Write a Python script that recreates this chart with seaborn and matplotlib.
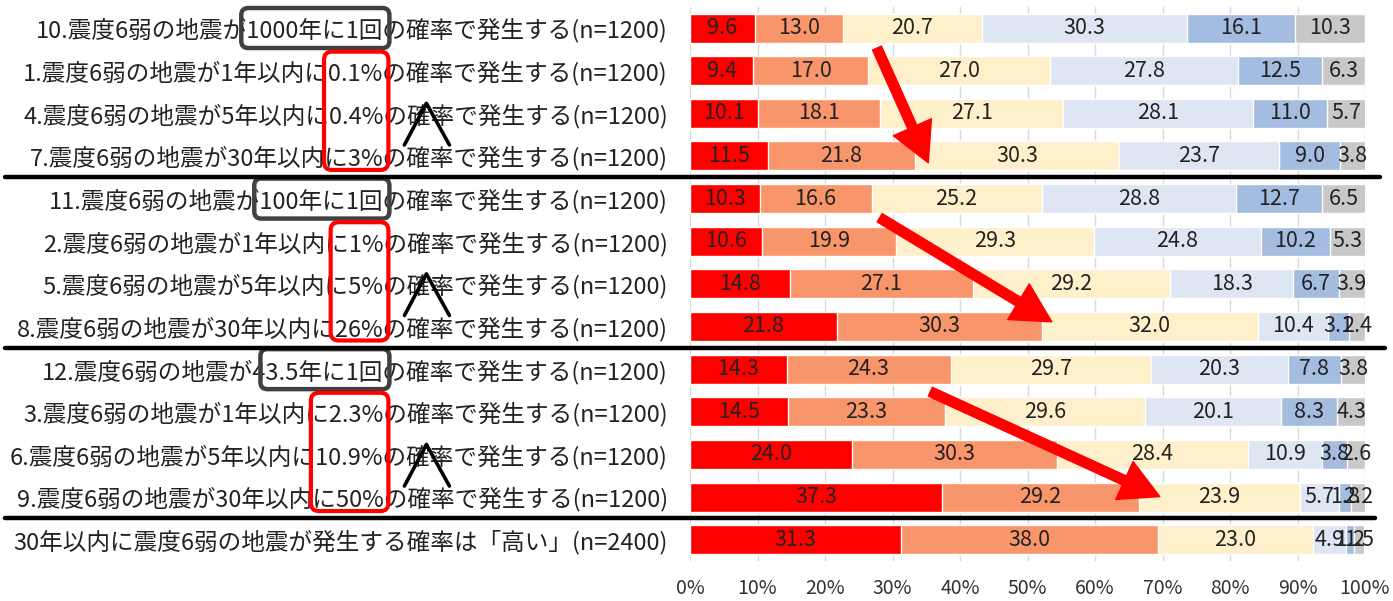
import matplotlib
matplotlib.use('Agg')
import matplotlib.pyplot as plt
import matplotlib.transforms as mtrans
from matplotlib.patches import FancyBboxPatch
from matplotlib.lines import Line2D
import numpy as np
import pandas as pd
import seaborn as sns

labels = [
    '10.震度6弱の地震が1000年に1回の確率で発生する(n=1200)',
    '1.震度6弱の地震が1年以内に0.1%の確率で発生する(n=1200)',
    '4.震度6弱の地震が5年以内に0.4%の確率で発生する(n=1200)',
    '7.震度6弱の地震が30年以内に3%の確率で発生する(n=1200)',
    '11.震度6弱の地震が100年に1回の確率で発生する(n=1200)',
    '2.震度6弱の地震が1年以内に1%の確率で発生する(n=1200)',
    '5.震度6弱の地震が5年以内に5%の確率で発生する(n=1200)',
    '8.震度6弱の地震が30年以内に26%の確率で発生する(n=1200)',
    '12.震度6弱の地震が43.5年に1回の確率で発生する(n=1200)',
    '3.震度6弱の地震が1年以内に2.3%の確率で発生する(n=1200)',
    '6.震度6弱の地震が5年以内に10.9%の確率で発生する(n=1200)',
    '9.震度6弱の地震が30年以内に50%の確率で発生する(n=1200)',
    '30年以内に震度6弱の地震が発生する確率は「高い」(n=2400)',
]
red = [9.6, 9.4, 10.1, 11.5, 10.3, 10.6, 14.8, 21.8, 14.3, 14.5, 24.0, 37.3, 31.3]
orange = [13.0, 17.0, 18.1, 21.8, 16.6, 19.9, 27.1, 30.3, 24.3, 23.3, 30.3, 29.2, 38.0]
yellow = [20.7, 27.0, 27.1, 30.3, 25.2, 29.3, 29.2, 32.0, 29.7, 29.6, 28.4, 23.9, 23.0]
lblue = [30.3, 27.8, 28.1, 23.7, 28.8, 24.8, 18.3, 10.4, 20.3, 20.1, 10.9, 5.7, 4.9]
mblue = [16.1, 12.5, 11.0, 9.0, 12.7, 10.2, 6.7, 3.1, 7.8, 8.3, 3.8, 1.8, 1.2]
grey = [10.3, 6.3, 5.7, 3.8, 6.5, 5.3, 3.9, 2.4, 3.8, 4.3, 2.6, 2.2, 1.5]
xticks = [0, 10, 20, 30, 40, 50, 60, 70, 80, 90, 100]

# boxed parts of the labels
dark_box = {0: '1000年に1回', 4: '100年に1回', 8: '3.5年に1回'}
red_box = [{1: '0.1%', 2: '0.4%', 3: '3%'},
           {5: '1%', 6: '5%', 7: '26%'},
           {9: '2.3%', 10: '10.9%', 11: '50%'}]

series = [red, orange, yellow, lblue, mblue, grey]
colors = ['#FF0000', '#F8956A', '#FFF0CC', '#DDE6F2', '#A3BCE0', '#C8C8C8']

sns.set_theme(style='white')
plt.rcParams['font.family'] = ['Noto Sans CJK JP', 'DejaVu Sans']

df = pd.DataFrame({'label': labels})
cum = np.cumsum(np.array(series), axis=0)

W, H = 1393, 601
fig = plt.figure(figsize=(W / 100, H / 100), dpi=100)
ax = fig.add_axes([690 / W, 1 - 561 / H, 675 / W, (561 - 6.7) / H])

# stacked bars: draw the cumulative totals from the back
for k in range(len(series) - 1, -1, -1):
    df['v'] = cum[k]
    sns.barplot(data=df, x='v', y='label', order=labels, color=colors[k],
                width=0.68, saturation=1, ax=ax, orient='h')

for k, s in enumerate(series):
    for i, v in enumerate(s):
        ax.text(cum[k][i] - v / 2, i, '{:.1f}'.format(v), ha='center', va='center',
                fontsize=15.5, color='#222222')

ax.set_xlim(0, 100)
ax.set_ylim(12.5, -0.5)
ax.set_xticks(xticks)
ax.set_xticklabels(['{}%'.format(t) for t in xticks], fontsize=14, color='#333333')
ax.set_xlabel('')
ax.set_ylabel('')
ax.tick_params(axis='y', length=0, pad=16, labelsize=17, labelcolor='#222222')
ax.tick_params(axis='x', length=0, pad=12)
for sp in ax.spines.values():
    sp.set_visible(False)
ax.xaxis.grid(True, color='#D9D9D9', linewidth=1)
ax.set_axisbelow(True)

# red arrows
for (x0, y0), (x1, y1) in [((27.7, 0.47), (35.3, 3.16)),
                           ((28.1, 4.45), (53.6, 6.89)),
                           ((35.6, 8.53), (69.6, 10.99))]:
    ax.annotate('', xy=(x1, y1), xytext=(x0, y0),
                arrowprops=dict(facecolor='#FF0000', edgecolor='#FF0000',
                                width=7, headwidth=30, headlength=28, shrink=0))

# group separators
bt = mtrans.blended_transform_factory(fig.transFigure, ax.transData)
for y, xr in [(3.5, 1380), (7.5, 1385), (11.5, 1375)]:
    fig.add_artist(Line2D([5 / W, xr / W], [y, y], transform=bt,
                          color='black', linewidth=3.2, clip_on=False))

fig.canvas.draw()
renderer = fig.canvas.get_renderer()
ticklabs = ax.get_yticklabels()
ident = mtrans.IdentityTransform()


def text_w(s, fp):
    t = fig.text(0, 0, s, fontproperties=fp)
    w = t.get_window_extent(renderer).width
    t.remove()
    return w


def part_span(i, part):
    lab = ticklabs[i]
    fp = lab.get_fontproperties()
    txt = labels[i]
    pos = txt.index(part)
    x_end = lab.get_window_extent(renderer).x1
    right = x_end - text_w(txt[pos + len(part):], fp)
    left = x_end - text_w(txt[pos:], fp)
    return left, right


def row_y(i):
    return ax.transData.transform((0, i))[1]


for i, part in dark_box.items():
    l, r = part_span(i, part)
    yc = row_y(i)
    fig.add_artist(FancyBboxPatch((l - 6, yc - 20), r - l + 12, 40,
                                  boxstyle='round,pad=0,rounding_size=7',
                                  transform=ident, fill=False,
                                  edgecolor='#404040', linewidth=3.2))

for grp in red_box:
    spans = [part_span(i, p) for i, p in grp.items()]
    rows = list(grp.keys())
    l = min(s[0] for s in spans) - 5
    r = max(s[1] for s in spans) + 5
    top = row_y(rows[0]) + 19
    bot = row_y(rows[-1]) - 14
    fig.add_artist(FancyBboxPatch((l, bot), r - l, top - bot,
                                  boxstyle='round,pad=0,rounding_size=8',
                                  transform=ident, fill=False,
                                  edgecolor='#FF0000', linewidth=3))
    # "∧" mark next to the red box
    ya = row_y(rows[1]) + 10
    yb = row_y(rows[2]) + 11
    fig.add_artist(Line2D([r + 16, r + 38, r + 61], [yb, ya, yb], transform=ident,
                          color='black', linewidth=2.6))

fig.savefig('out.png', dpi=100)
